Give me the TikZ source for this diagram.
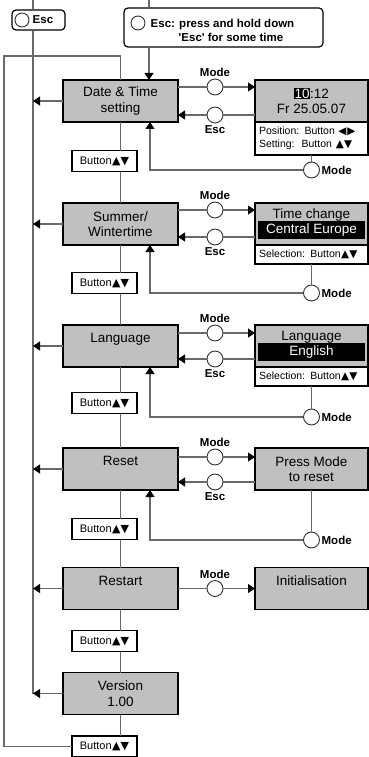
\documentclass[tikz,border=0pt]{standalone}
\usepackage{fontspec}
\setmainfont{Liberation Sans}
\newfontfamily\symfont{DejaVu Sans}
\usetikzlibrary{
  arrows.meta, % for the filled arrow heads
}
\definecolor{boxgray}{RGB}{192,192,192}
\definecolor{linegray}{RGB}{105,105,105}
\newcommand\hlbox[1]{{\setlength\fboxsep{0.6pt}\colorbox{black}{\color{white}#1}}}
\newcommand\band[1]{{\setlength\fboxsep{1pt}\colorbox{black}{\makebox[105pt]{\color{white}\strut #1}}}}
\newcommand\updown{{\symfont\kern0.5pt▲▼}}
\newcommand\leftright{{\symfont◀\kern1pt▶}}
\tikzset{
  mainbox/.style={draw, line width=1.4pt, fill=boxgray, minimum width=115pt,
    minimum height=42pt, inner sep=0pt, outer sep=0pt, align=center,
    font=\fontsize{13.5}{15.5}\selectfont},
  rbox/.style={mainbox, minimum width=113pt},
  rinfo/.style={draw, line width=1.4pt, fill=white, text width=105pt,
    inner xsep=4pt, inner ysep=1pt, outer sep=0pt, align=left, anchor=north,
    minimum height=19pt, font=\fontsize{10.5}{13.5}\selectfont},
  btnbox/.style={draw, line width=1.4pt, fill=white, minimum width=65pt,
    minimum height=21pt, inner sep=0pt, outer sep=0pt,
    font=\fontsize{11}{12}\selectfont},
  escbox/.style={draw, line width=1.2pt, rounded corners=4pt, fill=white},
  knob/.style={circle, draw=black!80, line width=0.9pt, fill=white,
    minimum size=16pt, inner sep=0pt},
  lbl/.style={font=\bfseries\fontsize{11.5}{12}\selectfont, inner sep=1.5pt},
  conn/.style={draw=linegray, line width=1.1pt},
  pointer/.style={-{Triangle[length=7pt, width=9pt, color=black]}},
}
\begin{document}
\begin{tikzpicture}[x=1pt, y=-1pt]
  \useasboundingbox (0,0) rectangle (369,757);
  \coordinate (lft) at (33,0);
  \coordinate (topm) at (149,0);
  \coordinate (loop) at (4,56);
  \coordinate (rx) at (150,0);

  % Esc keys at the top
  \node[escbox, minimum width=53pt, minimum height=20pt] (escshort) at (38.5,20) {};
  \node[knob, minimum size=14pt] (escshortk) at (22,20) {};
  \node[lbl, anchor=west] (escshortt) at (31,20) {Esc};
  \node[escbox, minimum width=199pt, minimum height=39pt] (esclong) at (223.5,27.5) {};
  \node[knob, minimum size=14pt] (esclongk) at (138,23) {};
  \node[lbl, anchor=west, align=left, font=\bfseries\fontsize{11.5}{14}\selectfont]
    (esclongt) at (149,30) {Esc: press and hold down\\
    \hspace*{28pt}\textquotesingle Esc\textquotesingle\ for some time};

  % menu items
  \node[mainbox] (datetime) at (120.5,101) {Date \& Time\\setting};
  \node[mainbox] (summer) at (120.5,224) {Summer/\\Wintertime};
  \node[mainbox] (language) at (120.5,346) {Language\\\mbox{}};
  \node[mainbox] (reset) at (120.5,469) {Reset\\\mbox{}};
  \node[mainbox] (restart) at (120.5,588.5) {Restart\\\mbox{}};
  \node[mainbox] (version) at (120.5,693.5) {Version\\1.00};
  \foreach \y [count=\i] in {161,283,403,529,641,746.5}
    \node[btnbox] (btn\i) at (104.5,\y) {Button\updown};

  % displays
  \node[rbox] (dtshow) at (311.5,101) {\hlbox{10}:12\\Fr 25.05.07};
  \node[rinfo, minimum height=33pt] (dtkeys) at (dtshow.south)
    {Position: Button \leftright\\Setting:\ \ Button \updown};
  \node[rbox] (tcshow) at (311.5,224) {Time change\\[-1pt]\band{Central Europe}};
  \node[rinfo] (tckeys) at (tcshow.south) {Selection: Button\updown};
  \node[rbox] (lgshow) at (311.5,346) {Language\\[-1pt]\band{English}};
  \node[rinfo] (lgkeys) at (lgshow.south) {Selection: Button\updown};
  \node[rbox] (rsshow) at (311.5,469) {Press Mode\\to reset};
  \node[rbox] (rtshow) at (311.5,588.5) {Initialisation\\\mbox{}};

  % main chain
  \foreach \a/\i/\b in {datetime/1/summer, summer/2/language, language/3/reset,
      reset/4/restart, restart/5/version} {
    \draw[conn] (\a.south) -- (\a.south |- btn\i.north);
    \draw[conn] (btn\i.south -| \a.south) -- (\b.north);
  }
  \draw[conn] (version.south) -- (version.south |- btn6.north);
  \draw[conn] (btn6.west) -| (loop) -| (datetime.north);

  % Esc lines on the left and top
  \draw[conn] (lft) -- (lft |- escshort.north);
  \draw[conn] (lft |- escshort.south) -- (version.west -| lft);
  \draw[conn] (topm) -- (topm |- esclong.north);
  \draw[conn, pointer] (topm |- esclong.south) -- (topm |- datetime.north);
  \foreach \m in {datetime, summer, language, reset, restart, version}
    \draw[conn, pointer] (\m.west) -- (\m.west -| lft);

  % Mode
  \foreach \m/\r/\y in {datetime/dtshow/87, summer/tcshow/210, language/lgshow/333,
      reset/rsshow/457, restart/rtshow/588.5} {
    \node[knob, label={[lbl]above:Mode}] (\m-mode) at (215,\y) {};
    \draw[conn] (\m.east |- \m-mode) -- (\m-mode);
    \draw[conn, pointer] (\m-mode) -- (\r.west |- \m-mode);
  }
  % Esc
  \foreach \m/\r/\y in {datetime/dtshow/115, summer/tcshow/237, language/lgshow/359,
      reset/rsshow/482} {
    \node[knob, label={[lbl]below:Esc}] (\m-esc) at (215,\y) {};
    \draw[conn] (\r.west |- \m-esc) -- (\m-esc);
    \draw[conn, pointer] (\m-esc) -- (\m.east |- \m-esc);
  }
  % Mode back
  \foreach \m/\k/\y in {datetime/dtkeys/170, summer/tckeys/293, language/lgkeys/417,
      reset/rsshow/540} {
    \node[knob, label={[lbl]right:Mode}] (\m-back) at (311.5,\y) {};
    \draw[conn] (\k.south) -- (\m-back);
    \draw[conn, pointer] (\m-back) -| (\m.south -| rx);
  }
\end{tikzpicture}
\end{document}
